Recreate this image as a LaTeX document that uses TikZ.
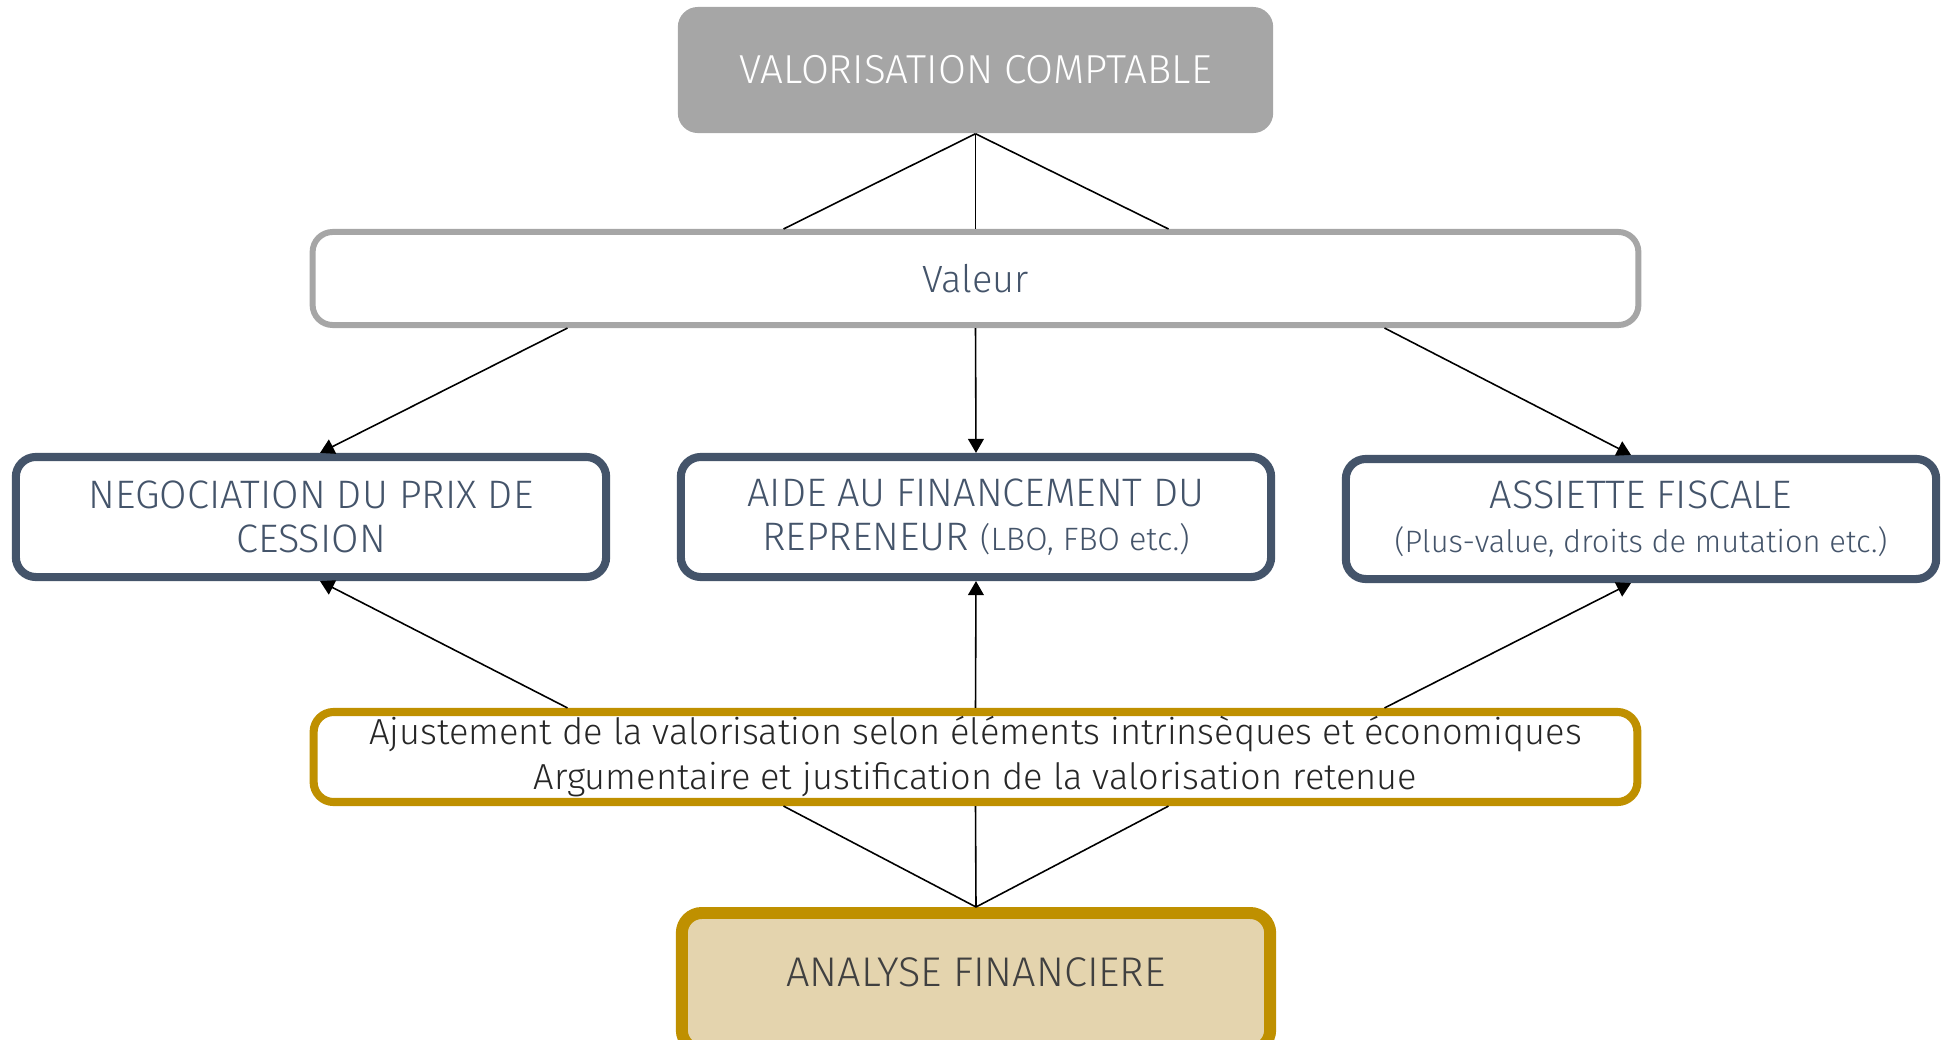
\documentclass[tikz,border=0pt]{standalone}
\usepackage{fontspec}
\setmainfont{Fira Sans Light}
\usetikzlibrary{arrows.meta,calc}

\definecolor{greybox}{HTML}{A6A6A6}
\definecolor{slate}{HTML}{44546A}
\definecolor{gold}{HTML}{BF9000}
\definecolor{sand}{HTML}{E4D4AE}
\definecolor{inkgrey}{HTML}{404040}

\tikzset{
  box/.style={rectangle, rounded corners=0.2cm, align=center, inner sep=0pt},
  topbox/.style={box, fill=greybox, text=white, minimum width=5.95cm, minimum height=1.26cm,
    font=\fontsize{11.5}{13}\selectfont},
  valbox/.style={box, draw=greybox, line width=1.7pt, fill=white, text=slate,
    minimum width=13.25cm, minimum height=0.93cm, font=\fontsize{10.8}{12}\selectfont},
  midbox/.style={box, draw=slate, line width=2.3pt, text=slate, minimum width=5.9cm,
    minimum height=1.2cm, font=\fontsize{11.3}{12.4}\selectfont},
  adjbox/.style={box, draw=gold, line width=2.3pt, text=black!85, minimum width=13.23cm,
    minimum height=0.9cm, font=\fontsize{10.3}{12.8}\selectfont},
  anabox/.style={box, draw=gold, fill=sand, line width=3.4pt, text=inkgrey,
    minimum width=5.88cm, text height=0.73cm, text depth=0.64cm,
    font=\fontsize{11.8}{13}\selectfont},
  link/.style={line width=0.45pt, black},
  arr/.style={link, -{Triangle[length=4pt,width=4.5pt]}},
}

\begin{document}
\begin{tikzpicture}[x=0.01cm, y=-0.01cm]

\useasboundingbox (0,0) rectangle (1951,1039);

% Boxes
\node[topbox] (vc) at (975.5,70) {VALORISATION COMPTABLE};
\node[valbox] (val) at (975.5,278.5) {Valeur};

\node[midbox] (neg) at (311,517) {NEGOCIATION DU PRIX DE\\CESSION};
\node[midbox] (aide) at (976,517) {AIDE AU FINANCEMENT DU\\REPRENEUR {\fontsize{9.2}{12}\selectfont(LBO, FBO etc.)}};
\node[midbox] (fisc) at (1641,519) {ASSIETTE FISCALE\\{\fontsize{8.8}{10.5}\selectfont(Plus-value, droits de mutation etc.)}};

\node[adjbox] (adj) at (975.5,757) {Ajustement de la valorisation selon éléments intrinsèques et économiques\\Argumentaire et justification de la valorisation retenue};

\node[anabox, anchor=north] (ana) at (976,907) {ANALYSE FINANCIERE};

% Top box down to Valeur
\foreach \dx in {-192,0,193}
    \draw[link] (vc.south) -- ($(val.north)+(\dx,0)$);

% Valeur to the three uses
\draw[arr] ($(val.south)+(-408,0)$) -- ($(neg.north)+(9,0)$);
\draw[arr] (val.south) -- (aide.north);
\draw[arr] ($(val.south)+(409,0)$) -- ($(fisc.north)+(-10,0)$);

% Adjustment up to the three uses
\draw[arr] ($(adj.north)+(-408,0)$) -- ($(neg.south)+(9,0)$);
\draw[arr] (adj.north) -- (aide.south);
\draw[arr] ($(adj.north)+(409,0)$) -- ($(fisc.south)+(-10,0)$);

% Analyse up to the adjustment
\foreach \dx in {-192,0,193}
    \draw[link] ($(adj.south)+(\dx,0)$) -- (ana.north);

\end{tikzpicture}
\end{document}
